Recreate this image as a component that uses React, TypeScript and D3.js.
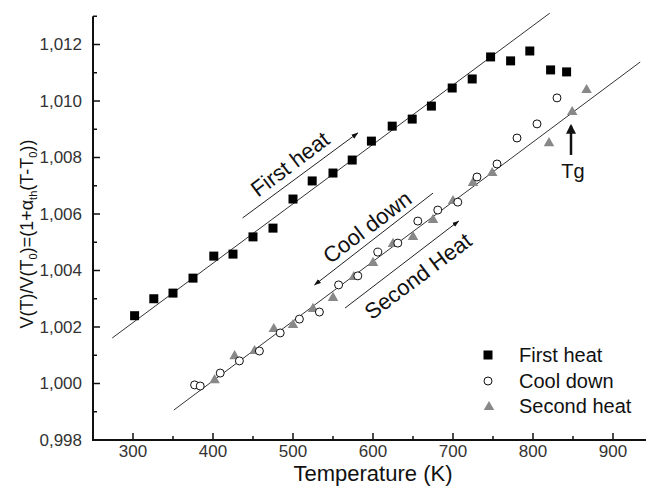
import React from "react";
import * as d3 from "d3";

// measured data (temperature K, relative volume)
const firstHeatT = [302, 326, 350, 375, 401, 425, 450, 475, 500, 524, 550, 574, 598, 624, 649, 673, 699, 724, 747, 772, 796, 822, 842];
const firstHeatV = [1.0024, 1.003, 1.0032, 1.00373, 1.00451, 1.00458, 1.00519, 1.0055, 1.00653, 1.00717, 1.00745, 1.00791, 1.00858, 1.00911, 1.00936, 1.00982, 1.01046, 1.01078, 1.01156, 1.01142, 1.01177, 1.0111, 1.01103];

const coolDownT = [377, 384, 409, 433, 458, 484, 508, 533, 557, 581, 606, 631, 656, 681, 706, 730, 755, 780, 805, 830];
const coolDownV = [0.99995, 0.99991, 1.00037, 1.0008, 1.00115, 1.00179, 1.00228, 1.00253, 1.00349, 1.00381, 1.00465, 1.00497, 1.00575, 1.00614, 1.00642, 1.00731, 1.00777, 1.00869, 1.00919, 1.01011];

const secondHeatT = [402, 427, 452, 476, 500, 525, 550, 576, 600, 625, 650, 675, 700, 725, 749, 820, 849, 867];
const secondHeatV = [1.00012, 1.00097, 1.00115, 1.00193, 1.00207, 1.00264, 1.00303, 1.00377, 1.00427, 1.00494, 1.00519, 1.00579, 1.00646, 1.0071, 1.00745, 1.00851, 1.00961, 1.01039];

// linear fits [T, V] endpoints
const fitFirst = [[274, 1.00161], [821, 1.01311]];
const fitSecond = [[351, 0.99906], [934, 1.01138]];

const xTicks = [300, 400, 500, 600, 700, 800, 900];
const xMinor = [250, 350, 450, 550, 650, 750, 850, 950];
const yTicks = [0.998, 1.0, 1.002, 1.004, 1.006, 1.008, 1.01, 1.012];
const yMinor = [0.999, 1.001, 1.003, 1.005, 1.007, 1.009, 1.011, 1.013];

const legendLabels = ["First heat", "Cool down", "Second heat"];

const W = 646, H = 489;
const font = "'Liberation Sans', Arial, sans-serif";

export default function App() {
  const x = d3.scaleLinear().domain([250, 950]).range([93, 653]);
  const y = d3.scaleLinear().domain([0.998, 1.013]).range([440, 16.25]);
  const fmt = (v: number) => d3.format(".3f")(v).replace(".", ",");

  const square = d3.symbol().type(d3.symbolSquare).size(81)();
  const tri = d3.symbol().type(d3.symbolTriangle).size(48)();
  const line = d3.line<number[]>().x(d => x(d[0])).y(d => y(d[1]));

  const angle = -37;
  const arrow = (a: number[], b: number[], key: string) => (
    <line key={key} x1={x(a[0])} y1={y(a[1])} x2={x(b[0])} y2={y(b[1])}
      stroke="#222" strokeWidth={1} markerEnd="url(#arr)" />
  );

  return (
    <svg width={W} height={H} style={{ position: "absolute", left: 0, top: 0, background: "#fff" }}>
      <defs>
        <marker id="arr" viewBox="0 0 10 10" refX="9" refY="5" markerWidth="7" markerHeight="7" orient="auto">
          <path d="M0,1.5 L10,5 L0,8.5 z" fill="#111" />
        </marker>
        <marker id="arrTg" viewBox="0 0 10 10" refX="8" refY="5" markerWidth="4" markerHeight="4" orient="auto">
          <path d="M0,0 L10,5 L0,10 z" fill="#111" />
        </marker>
      </defs>

      {/* fit lines */}
      <path d={line(fitFirst) || ""} stroke="#333" strokeWidth={1} fill="none" />
      <path d={line(fitSecond) || ""} stroke="#333" strokeWidth={1} fill="none" />

      {/* data */}
      {secondHeatT.map((t, i) => (
        <path key={"s" + i} d={tri} transform={`translate(${x(t)},${y(secondHeatV[i])})`} fill="#888" />
      ))}
      {coolDownT.map((t, i) => (
        <circle key={"c" + i} cx={x(t)} cy={y(coolDownV[i])} r={4} fill="#fff" stroke="#111" strokeWidth={1} />
      ))}
      {firstHeatT.map((t, i) => (
        <path key={"f" + i} d={square} transform={`translate(${x(t)},${y(firstHeatV[i])})`} fill="#000" />
      ))}

      {/* annotations */}
      {arrow([437, 1.00586], [581, 1.00887], "a1")}
      {arrow([675, 1.00674], [527, 1.00349], "a2")}
      {arrow([565, 1.00267], [707, 1.00575], "a3")}
      <line x1={x(847.5)} y1={y(1.00809)} x2={x(847.5)} y2={y(1.00912)} stroke="#111" strokeWidth={2.5} markerEnd="url(#arrTg)" />
      <g fontFamily={font} fontSize={22} fill="#111" textAnchor="middle">
        <text transform={`translate(290,164) rotate(${angle})`} dy="0.35em">First heat</text>
        <text transform={`translate(367,227) rotate(${angle})`} dy="0.35em">Cool down</text>
        <text transform={`translate(418,276) rotate(${angle})`} dy="0.35em">Second Heat</text>
        <text x={573} y={178} fontSize={20}>Tg</text>
      </g>

      {/* axes */}
      <line x1={93} y1={y(1.013)} x2={93} y2={441} stroke="#111" strokeWidth={2} />
      <line x1={92} y1={440} x2={653} y2={440} stroke="#111" strokeWidth={2} />
      {yTicks.map(t => (
        <g key={"yt" + t}>
          <line x1={93} x2={100} y1={y(t)} y2={y(t)} stroke="#111" strokeWidth={1.5} />
          <text x={82} y={y(t)} dy="0.35em" textAnchor="end" fontFamily={font} fontSize={17} fill="#333">{fmt(t)}</text>
        </g>
      ))}
      {yMinor.map(t => (
        <line key={"ym" + t} x1={93} x2={97} y1={y(t)} y2={y(t)} stroke="#111" strokeWidth={1.5} />
      ))}
      {xTicks.map(t => (
        <g key={"xt" + t}>
          <line x1={x(t)} x2={x(t)} y1={440} y2={433} stroke="#111" strokeWidth={1.5} />
          <text x={x(t)} y={457} textAnchor="middle" fontFamily={font} fontSize={17} fill="#333">{t}</text>
        </g>
      ))}
      {xMinor.map(t => (
        <line key={"xm" + t} x1={x(t)} x2={x(t)} y1={440} y2={436} stroke="#111" strokeWidth={1.5} />
      ))}

      <text x={373} y={481} textAnchor="middle" fontFamily={font} fontSize={22} fill="#111">Temperature (K)</text>
      <text transform="translate(33,234) rotate(-90)" textAnchor="middle" fontFamily={font} fontSize={18} fill="#111">
        V(T)/V(T<tspan fontSize={11} dy={4}>0</tspan><tspan dy={-4}>)=(1+α</tspan>
        <tspan fontSize={11} dy={4}>th</tspan><tspan dy={-4}>(T-T</tspan>
        <tspan fontSize={11} dy={4}>0</tspan><tspan dy={-4}>))</tspan>
      </text>

      {/* legend */}
      <path d={square} transform="translate(488,355)" fill="#000" />
      <circle cx={488} cy={381} r={4} fill="#fff" stroke="#111" strokeWidth={1} />
      <path d={tri} transform="translate(489,407)" fill="#888" />
      {legendLabels.map((l, i) => (
        <text key={l} x={519} y={362 + i * 25.5} fontFamily={font} fontSize={20} fill="#111">{l}</text>
      ))}
    </svg>
  );
}
